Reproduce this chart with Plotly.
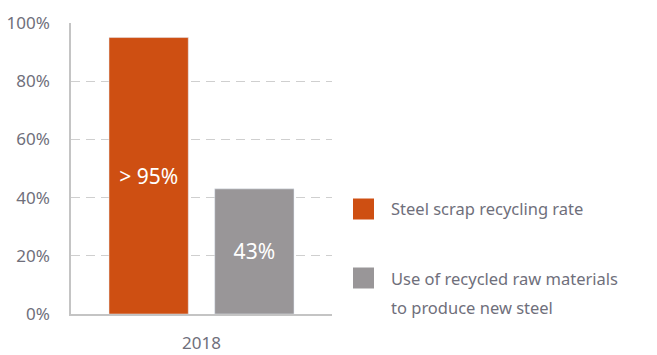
import plotly.graph_objects as go

categories = ["2018"]
series_names = ["Steel scrap recycling rate",
                "Use of recycled raw materials<br>to produce new steel"]
scrap_rate = [95]
recycled_use = [43]
bar_labels_scrap = ["> 95%"]
bar_labels_recycled = ["43%"]
y_ticks = [0, 20, 40, 60, 80, 100]
y_tick_labels = ["0%", "20%", "40%", "60%", "80%", "100%"]

ORANGE = "#CE4F12"
GRAY = "#999698"
TXT = "#6F6F7B"
FONT = "Noto Sans"

W, H = 657, 355
L, R, T, B = 71, 325, 23, 41
pw, ph = W - L - R, H - T - B

def px_x(x):
    return (x - L) / pw

def px_y(y):
    return (H - B - y) / ph

fig = go.Figure()
fig.add_bar(x=categories, y=scrap_rate, name=series_names[0], marker_color=ORANGE,
            text=bar_labels_scrap, textposition="inside", insidetextanchor="middle",
            textfont=dict(color="white", size=21, family=FONT), showlegend=False)
fig.add_bar(x=categories, y=recycled_use, name=series_names[1], marker_color=GRAY,
            text=bar_labels_recycled, textposition="inside", insidetextanchor="middle",
            textfont=dict(color="white", size=21, family=FONT), showlegend=False)

shapes = []
annotations = []
legend_items = [(ORANGE, series_names[0], 209), (GRAY, series_names[1], 278)]
LINE_GAP = 29
for color, label, cy in legend_items:
    shapes.append(dict(type="rect", xref="paper", yref="paper",
                       x0=px_x(353), x1=px_x(374), y0=px_y(cy + 10.5), y1=px_y(cy - 10.5),
                       fillcolor=color, line=dict(width=0)))
    for i, line in enumerate(label.split("<br>")):
        annotations.append(dict(xref="paper", yref="paper", x=px_x(389),
                                y=px_y(cy + i * LINE_GAP),
                                xanchor="left", yanchor="middle", align="left",
                                showarrow=False, text=line,
                                font=dict(size=16.5, color=TXT, family=FONT)))

fig.update_layout(
    width=W, height=H,
    margin=dict(l=L, r=R, t=T, b=B, pad=0, autoexpand=False),
    paper_bgcolor="white", plot_bgcolor="white",
    barmode="group", bargap=0.19, bargroupgap=0.25,
    font=dict(family=FONT, color=TXT, size=16),
    shapes=shapes, annotations=annotations,
    xaxis=dict(showline=True, linecolor="#C4C4C4", linewidth=1.5, showgrid=False,
               ticks="", ticklabelstandoff=13, tickfont=dict(size=17, color=TXT),
               automargin=False, fixedrange=True),
    yaxis=dict(range=[0, 100], tickvals=y_ticks, ticktext=y_tick_labels,
               showline=True, linecolor="#C4C4C4", linewidth=1.5,
               showgrid=True, gridcolor="#CFCFCF", griddash="9px,6px", gridwidth=1,
               zeroline=False, ticks="", ticklabelstandoff=16,
               tickfont=dict(size=17, color=TXT), automargin=False, fixedrange=True),
    showlegend=False,
)

fig.write_html("out.html", config={"displayModeBar": False},
               post_script="document.body.style.margin='0';")
